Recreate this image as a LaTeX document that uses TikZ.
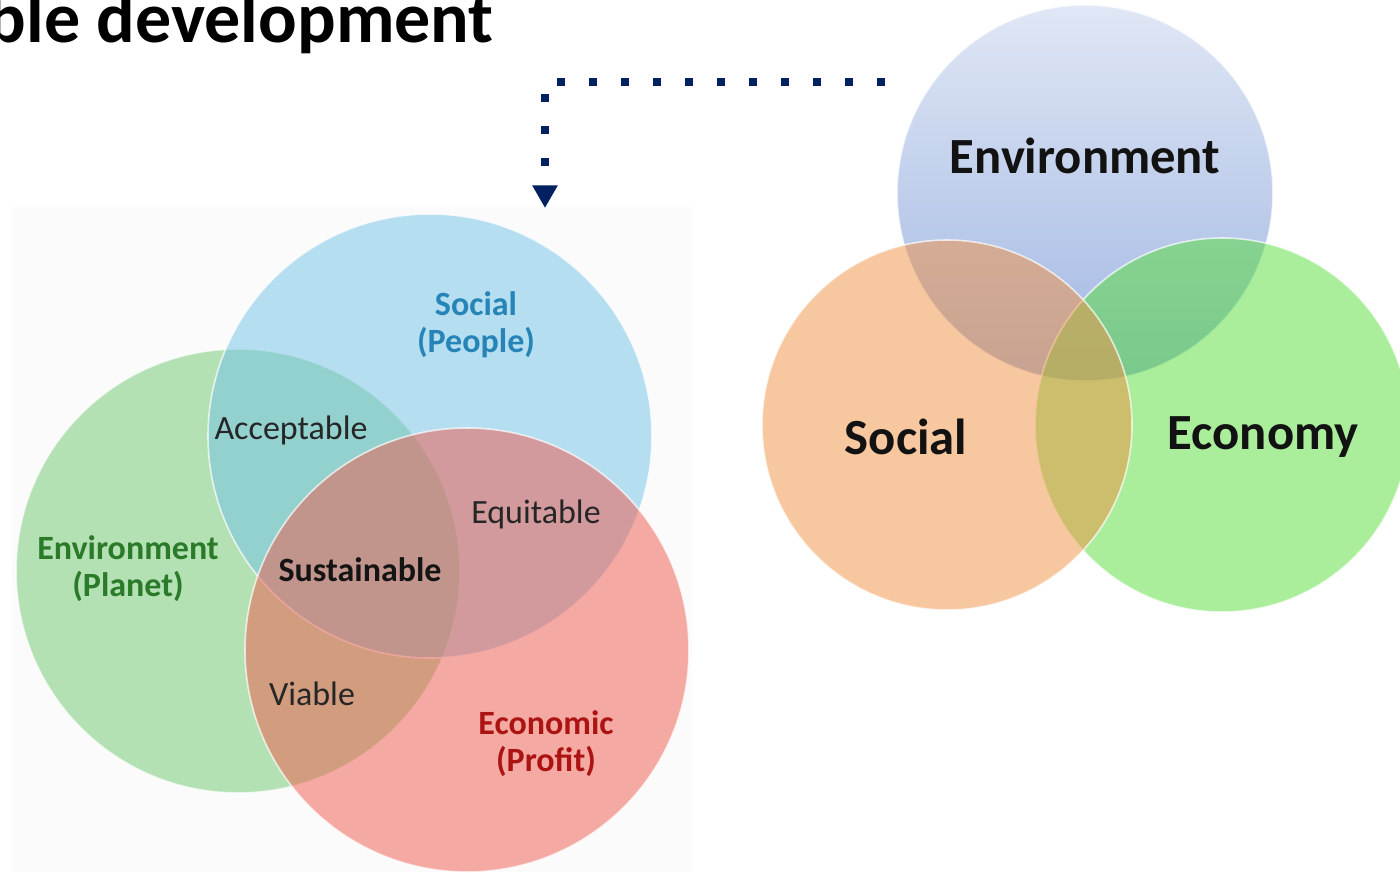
\documentclass[tikz,border=0pt]{standalone}
\usepackage{fontspec}
\setmainfont{Carlito}
\usetikzlibrary{arrows.meta}
\definecolor{navy}{RGB}{0,32,96}
\definecolor{panelbg}{RGB}{251,251,251}
\definecolor{lgreen}{RGB}{110,201,110}
\definecolor{lblue}{RGB}{115,195,233}
\definecolor{lred}{RGB}{240,88,76}
\definecolor{envtop}{RGB}{224,231,245}
\definecolor{envbot}{RGB}{160,182,226}
\definecolor{rorange}{RGB}{241,145,66}
\definecolor{rgreen}{RGB}{86,221,56}
\definecolor{socblue}{RGB}{38,132,182}
\definecolor{envgreen}{RGB}{42,122,42}
\definecolor{ecored}{RGB}{172,20,20}
\definecolor{txtgray}{RGB}{38,38,38}
\tikzset{
  venn/.style={circle, inner sep=0pt, outer sep=0pt, minimum size=#1,
    draw=white, line width=1.2pt, draw opacity=0.7},
  lefttint/.style={fill=#1, fill opacity=0.5},
  smalllab/.style={font=\fontsize{25.5pt}{27.75pt}\selectfont, text=txtgray, inner sep=0pt, align=center},
  boldlab/.style={font=\bfseries\fontsize{25.5pt}{27.75pt}\selectfont, inner sep=0pt, align=center},
  biglab/.style={font=\bfseries\fontsize{38pt}{40pt}\selectfont, text=black!93, inner sep=0pt},
  titletext/.style={font=\bfseries\fontsize{54pt}{60pt}\selectfont, inner sep=0pt},
  conn/.style={draw=navy, line width=6pt, dash pattern=on 6pt off 18pt,
    -{Triangle[length=17pt, width=18pt]}}
}
\begin{document}
\begin{tikzpicture}[x=0.75pt,y=-0.75pt]
\useasboundingbox (0,0) rectangle (1400,872);
\fill[white] (0,0) rectangle (1400,872);

% title
\node[titletext, anchor=base east] (title) at (494,42) {ble development};

% left panel background
\fill[panelbg] (12,207) rectangle (692,872);

% left Venn
\node[venn=333pt, lefttint=lgreen] (lgr) at (238,571) {};
\node[venn=333pt, lefttint=lblue] (lbl) at (430,436) {};
\node[venn=333pt, lefttint=lred] (lrd) at (467,650) {};

\node[boldlab, text=socblue] (socL) at (476,325) {Social\\(People)};
\node[boldlab, text=envgreen] (envL) at (128,569) {Environment\\(Planet)};
\node[boldlab, text=ecored] (ecoL) at (546,744) {Economic\\(Profit)};
\node[smalllab] (acc) at (291,430) {Acceptable};
\node[smalllab] (equ) at (536,514) {Equitable};
\node[smalllab] (via) at (312,694) {Viable};
\node[boldlab, text=black!92] (sus) at (360,570) {Sustainable};

% right Venn
\node[venn=282pt, top color=envtop, bottom color=envbot, draw=white] (renv) at (1085,193) {};
\node[venn=280.5pt, fill=rgreen, fill opacity=0.5] (reco) at (1222,425) {};
\node[venn=277.5pt, fill=rorange, fill opacity=0.5] (rsoc) at (947,425) {};

\node[biglab] (renvL) at (1085,156) {Environment};
\node[biglab] (rsocL) at (906,437) {Social};
\node[biglab] (recoL) at (1263,437) {Economy};

% connector
\coordinate (cstart) at (885,82);
\coordinate (cend) at (545,208);
\draw[conn] (cstart) -| (cend);
\end{tikzpicture}
\end{document}
